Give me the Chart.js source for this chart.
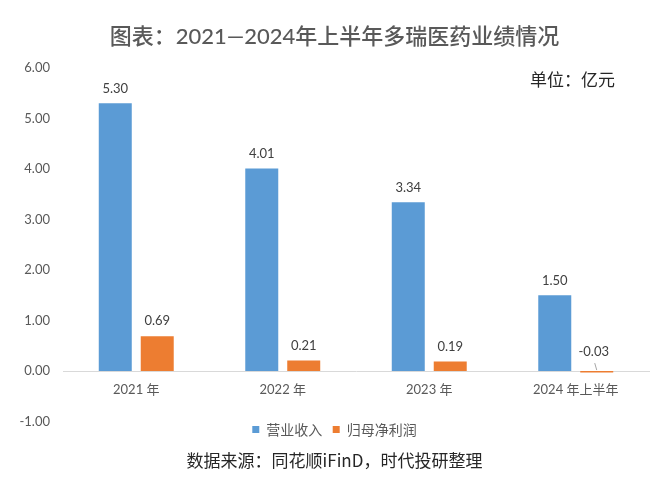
<!DOCTYPE html>
<html>
<head>
<meta charset="utf-8">
<script src="https://cdn.jsdelivr.net/npm/chart.js@4"></script>
<style>
  html, body { margin: 0; padding: 0; background: #fff; }
  #wrap { width: 660px; height: 491px; }
</style>
</head>
<body>
<div id="wrap"><canvas id="myChart"></canvas></div>
<script>
const categories = ["2021 年", "2022 年", "2023 年", "2024 年上半年"];
const revenue = [5.30, 4.01, 3.34, 1.50];
const netProfit = [0.69, 0.21, 0.19, -0.03];
const seriesNames = ["营业收入", "归母净利润"];
const yTicks = [-1, 0, 1, 2, 3, 4, 5, 6];

const FONT = "Lato, 'Noto Sans CJK SC', sans-serif";
const CJK = "'Noto Sans CJK SC', sans-serif";

// value labels above each bar, with a small leader for the negative one
const valueLabels = {
  id: "valueLabels",
  afterDatasetsDraw(chart) {
    const ctx = chart.ctx;
    const zero = chart.scales.y.getPixelForValue(0);
    ctx.save();
    ctx.font = "13px " + FONT;
    ctx.fillStyle = "#404040";
    ctx.textAlign = "center";
    ctx.textBaseline = "middle";
    chart.data.datasets.forEach((ds, i) => {
      chart.getDatasetMeta(i).data.forEach((bar, j) => {
        const v = ds.data[j];
        if (v >= 0) {
          ctx.fillText(v.toFixed(2), bar.x, bar.y - 15);
        } else {
          ctx.fillText(v.toFixed(2), bar.x - 3, zero - 19);
          ctx.strokeStyle = "#A6A6A6";
          ctx.lineWidth = 1;
          ctx.beginPath();
          ctx.moveTo(bar.x - 2, zero - 8);
          ctx.lineTo(bar.x, zero - 1);
          ctx.stroke();
        }
      });
    });
    ctx.restore();
  }
};

// unit note at the top right of the plot
const unitNote = {
  id: "unitNote",
  afterDraw(chart) {
    const ctx = chart.ctx;
    const area = chart.chartArea;
    ctx.save();
    ctx.font = "17px " + CJK;
    ctx.fillStyle = "#262626";
    ctx.textAlign = "right";
    ctx.textBaseline = "middle";
    ctx.fillText("单位：亿元", area.right - 34, area.top + 12);
    ctx.restore();
  }
};

new Chart(document.getElementById("myChart"), {
  type: "bar",
  data: {
    labels: categories,
    datasets: [
      {
        label: seriesNames[0],
        data: revenue,
        backgroundColor: "#5B9BD5",
        barPercentage: 0.786,
        categoryPercentage: 0.573
      },
      {
        label: seriesNames[1],
        data: netProfit,
        backgroundColor: "#ED7D31",
        barPercentage: 0.786,
        categoryPercentage: 0.573
      }
    ]
  },
  options: {
    responsive: true,
    maintainAspectRatio: false,
    animation: false,
    layout: { padding: { left: 20, right: 11, top: 0, bottom: 0 } },
    scales: {
      x: {
        position: { y: 0 },
        grid: { display: false, drawTicks: false },
        border: { display: true, color: "#D9D9D9", width: 1 },
        ticks: { color: "#595959", font: { family: FONT, size: 13 }, padding: 11, maxRotation: 0 },
        afterFit: (s) => { s.height = 0; }
      },
      y: {
        min: -1,
        max: 6,
        afterBuildTicks: (s) => { s.ticks = yTicks.map(v => ({ value: v })); },
        grid: { display: false, drawTicks: false },
        border: { display: false },
        ticks: {
          color: "#595959",
          font: { family: FONT, size: 13 },
          padding: 13,
          callback: (v) => Number(v).toFixed(2)
        },
        afterFit: (s) => { s.width = 43; }
      }
    },
    plugins: {
      tooltip: { enabled: false },
      title: {
        display: true,
        text: "图表：2021—2024年上半年多瑞医药业绩情况",
        color: "#595959",
        font: { family: FONT, size: 22, weight: "500" },
        padding: { top: 24, bottom: 17.6 }
      },
      legend: {
        position: "bottom",
        labels: {
          color: "#595959",
          font: { family: CJK, size: 14 },
          boxWidth: 7,
          boxHeight: 7,
          padding: 1,
          generateLabels: (chart) => {
            const items = Chart.defaults.plugins.legend.labels.generateLabels(chart);
            items[0].text = items[0].text + "   ";
            return items;
          }
        }
      },
      subtitle: {
        display: true,
        position: "bottom",
        text: "数据来源：同花顺iFinD，时代投研整理",
        color: "#262626",
        font: { family: CJK, size: 17 },
        padding: { top: 4, bottom: 20 }
      }
    }
  },
  plugins: [valueLabels, unitNote]
});
</script>
</body>
</html>
